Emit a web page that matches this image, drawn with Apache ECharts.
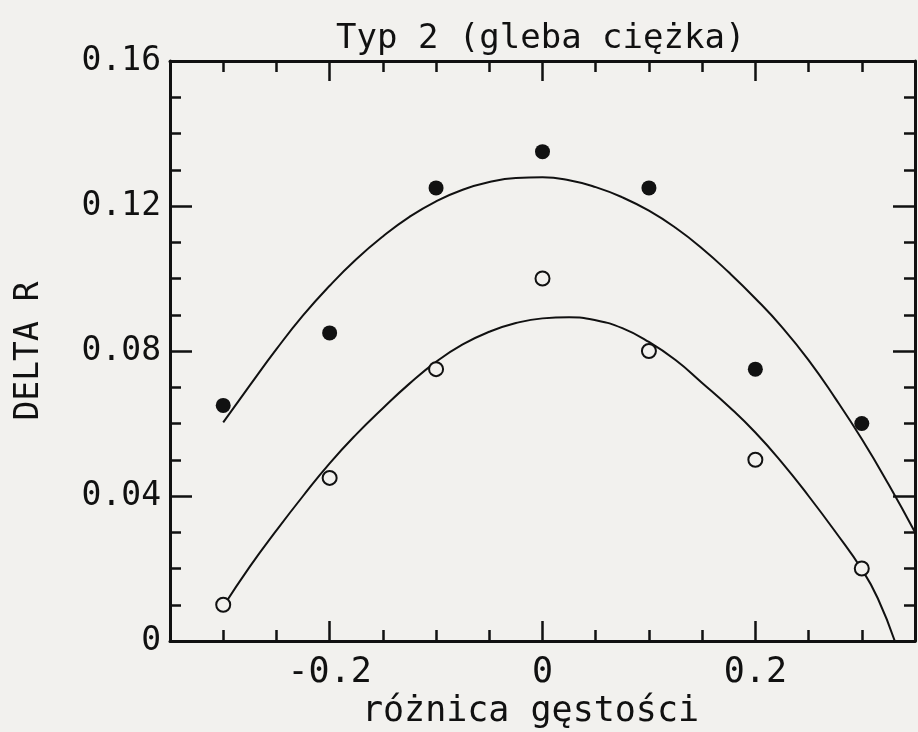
<!DOCTYPE html>
<html><head><meta charset="utf-8">
<script src="https://cdn.jsdelivr.net/npm/echarts@6/dist/echarts.min.js"></script>
<style>html,body{margin:0;padding:0;background:#f2f1ee;} #c{width:918px;height:732px;}</style>
</head><body><div id="c"></div>
<script>
// ---- data ----
const pointX = [-0.3, -0.2, -0.1, 0, 0.1, 0.2, 0.3];
const filledY = [0.065, 0.085, 0.125, 0.135, 0.125, 0.075, 0.060];
const openY = [0.010, 0.045, 0.075, 0.100, 0.080, 0.050, 0.020];
const upperCurveX = [-0.300, -0.275, -0.250, -0.225, -0.200, -0.175, -0.150, -0.125, -0.100, -0.075, -0.050, -0.025,
  0, 0.025, 0.050, 0.075, 0.100, 0.125, 0.150, 0.175, 0.200, 0.225, 0.250, 0.275, 0.300, 0.325, 0.350];
const upperCurveY = [0.0603, 0.0705, 0.0805, 0.0898, 0.0980, 0.1053, 0.1116, 0.1170, 0.1213, 0.1245, 0.1266, 0.1277,
  0.1279, 0.1271, 0.1252, 0.1224, 0.1187, 0.1140, 0.1083, 0.1017, 0.0945, 0.0866, 0.0775, 0.0670, 0.0557, 0.0433, 0.0300];
const lowerCurveX = [-0.300, -0.275, -0.250, -0.225, -0.200, -0.175, -0.150, -0.125, -0.100, -0.075, -0.050, -0.025,
  0, 0.025, 0.050, 0.075, 0.100, 0.125, 0.150, 0.175, 0.200, 0.225, 0.250, 0.275, 0.300, 0.315, 0.331];
const lowerCurveY = [0.0095, 0.0205, 0.0305, 0.0400, 0.0490, 0.0570, 0.0642, 0.0710, 0.0770, 0.0818, 0.0853, 0.0877,
  0.0890, 0.0893, 0.0885, 0.0863, 0.0825, 0.0775, 0.0712, 0.0647, 0.0575, 0.0492, 0.0400, 0.0302, 0.0198, 0.0118, 0];
const xMajorValues = [-0.2, 0, 0.2];
const xTickLabels = ['-0.2', '0', '0.2'];
const yTickLabels = ['0', '0.04', '0.08', '0.12', '0.16'];
const titleText = 'Typ 2 (gleba ciężka)';
const xName = 'różnica gęstości';
const yName = 'DELTA R';

const ink = '#111111';
const bg = '#f2f1ee';
const font = 'DejaVu Sans Mono';

// frame line + short x ticks every 0.05 (the axis the series use)
function xValueAxis(pos, withLabels) {
  const a = {
    type: 'value', position: pos, min: -0.35, max: 0.35, interval: 0.05,
    axisLine: { show: true, onZero: false, lineStyle: { color: ink, width: 3 } },
    splitLine: { show: false },
    axisTick: { show: true, inside: true, length: 11, lineStyle: { color: ink, width: 2.5 } },
    axisLabel: { show: false }
  };
  if (withLabels) {
    a.axisLabel = {
      show: true, margin: 14, color: ink, fontFamily: font, fontSize: 35,
      formatter: function (v) {
        const i = xMajorValues.findIndex(t => Math.abs(t - v) < 1e-9);
        return i < 0 ? '' : xTickLabels[i];
      }
    };
    a.name = xName;
    a.nameLocation = 'middle';
    a.nameGap = 50;
    a.nameTextStyle = { color: ink, fontFamily: font, fontSize: 35, padding: [0, 24, 0, 0] };
  }
  return a;
}
// long x ticks at the labelled values
function xMajorAxis(pos) {
  return {
    type: 'value', position: pos, min: -0.35, max: 0.35, interval: 0.05,
    axisLine: { show: false, onZero: false },
    splitLine: { show: false },
    axisTick: { show: true, inside: true, length: 20, customValues: xMajorValues, lineStyle: { color: ink, width: 2.5 } },
    axisLabel: { show: false }
  };
}
function yAxisDef(pos, withLabels) {
  const a = {
    type: 'value', position: pos, min: 0, max: 0.16, interval: 0.04,
    axisLine: { show: true, onZero: false, lineStyle: { color: ink, width: 3 } },
    splitLine: { show: false },
    axisTick: { show: true, inside: true, length: 22, lineStyle: { color: ink, width: 2.5 } },
    minorTick: { show: true, splitNumber: 4, length: 11, lineStyle: { color: ink, width: 2.5 } },
    axisLabel: { show: false }
  };
  if (withLabels) {
    a.axisLabel = {
      show: true, margin: 9, color: ink, fontFamily: font, fontSize: 33,
      formatter: v => yTickLabels[Math.round(v / 0.04)]
    };
    a.name = yName;
    a.nameLocation = 'middle';
    a.nameGap = 124;
    a.nameRotate = 90;
    a.nameTextStyle = { color: ink, fontFamily: font, fontSize: 33 };
  }
  return a;
}

const chart = echarts.init(document.getElementById('c'));
chart.setOption({
  animation: false,
  backgroundColor: bg,
  title: {
    text: titleText, left: 331, top: 17,
    textStyle: { color: ink, fontFamily: font, fontSize: 34, fontWeight: 'normal' }
  },
  grid: { left: 170, right: 3, top: 61, bottom: 91, containLabel: false, outerBoundsMode: 'none' },
  xAxis: [
    xValueAxis('bottom', true),
    xMajorAxis('bottom'),
    xValueAxis('top', false),
    xMajorAxis('top')
  ],
  yAxis: [yAxisDef('left', true), yAxisDef('right', false)],
  series: [
    {
      type: 'line', name: 'fit filled', smooth: true, symbol: 'none', z: 2,
      data: upperCurveX.map((x, i) => [x, upperCurveY[i]]),
      lineStyle: { color: ink, width: 2 }
    },
    {
      type: 'line', name: 'fit open', smooth: true, symbol: 'none', z: 2,
      data: lowerCurveX.map((x, i) => [x, lowerCurveY[i]]),
      lineStyle: { color: ink, width: 2 }
    },
    {
      type: 'scatter', name: 'filled', symbol: 'circle', symbolSize: 15, z: 3,
      data: pointX.map((x, i) => [x, filledY[i]]),
      itemStyle: { color: ink, opacity: 1 }
    },
    {
      type: 'scatter', name: 'open', symbol: 'circle', symbolSize: 14, z: 3,
      data: pointX.map((x, i) => [x, openY[i]]),
      itemStyle: { color: bg, borderColor: ink, borderWidth: 2, opacity: 1 }
    }
  ]
});
</script>
</body></html>
